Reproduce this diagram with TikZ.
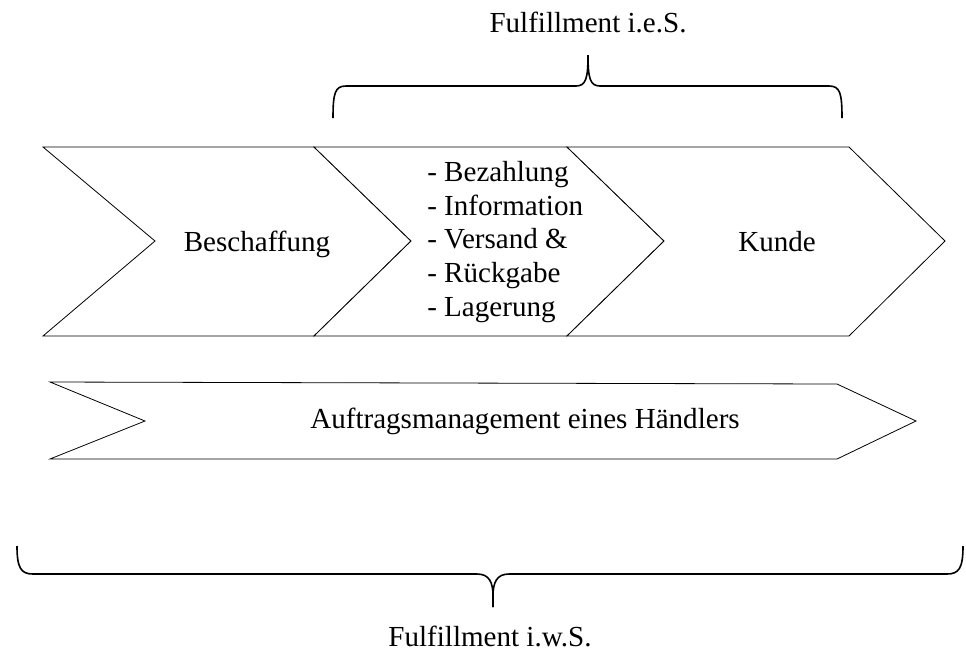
\documentclass[tikz,border=0pt]{standalone}
\usepackage{fontspec}
\setmainfont{Liberation Serif}
\begin{document}
\begin{tikzpicture}[x=0.75pt,y=-0.75pt,
  chev/.style={draw=black,line width=0.6pt,line join=miter,fill=white},
  brace/.style={draw=black,line width=1.2pt,line cap=butt},
  lbl/.style={font=\fontsize{21.8}{25.2}\selectfont,inner sep=0pt}]
\useasboundingbox (0,0) rectangle (966,658);

% process chevrons
\draw[chev] (43,147) -- (314,147) -- (411,241) -- (314,336) -- (43,336) -- (155,241) -- cycle;
\draw[chev] (314,147) -- (567,147) -- (664,241) -- (567,336) -- (314,336) -- (411,241) -- cycle;
\draw[chev] (567,147) -- (849,147) -- (945,241) -- (849,336) -- (567,336) -- (664,241) -- cycle;

% long chevron below
\draw[chev] (50,382) -- (837,384) -- (916,421) -- (837,459) -- (50,459) -- (145,421) -- cycle;

% texts
\node[lbl,anchor=base] (beschaffung) at (257,251) {Beschaffung};
\node[lbl,align=left,anchor=west] (liste) at (427,242)
  {- Bezahlung\\- Information\\- Versand \&\\- Rückgabe\\- Lagerung};
\node[lbl,anchor=base] (kunde) at (777,251) {Kunde};
\node[lbl] (auftrag) at (525,421) {Auftragsmanagement eines Händlers};
\node[lbl] (ies) at (588,22) {Fulfillment i.e.S.};
\node[lbl] (iws) at (490,636) {Fulfillment i.w.S.};

% top brace
\draw[brace] (333,118) .. controls (333,93) and (335,86) .. (346,86)
  -- (576,86) .. controls (586,86) and (588,78) .. (588,55)
  .. controls (588,78) and (590,86) .. (600,86)
  -- (829,86) .. controls (840,86) and (842,93) .. (842,118);

% bottom brace
\draw[brace] (17,546) .. controls (17,568) and (21,574) .. (33,574)
  -- (477,574) .. controls (489,574) and (493,582) .. (493,596) -- (493,607);
\draw[brace] (493,607) -- (493,596) .. controls (493,582) and (497,574) .. (509,574)
  -- (947,574) .. controls (959,574) and (963,568) .. (963,546);
\end{tikzpicture}
\end{document}
